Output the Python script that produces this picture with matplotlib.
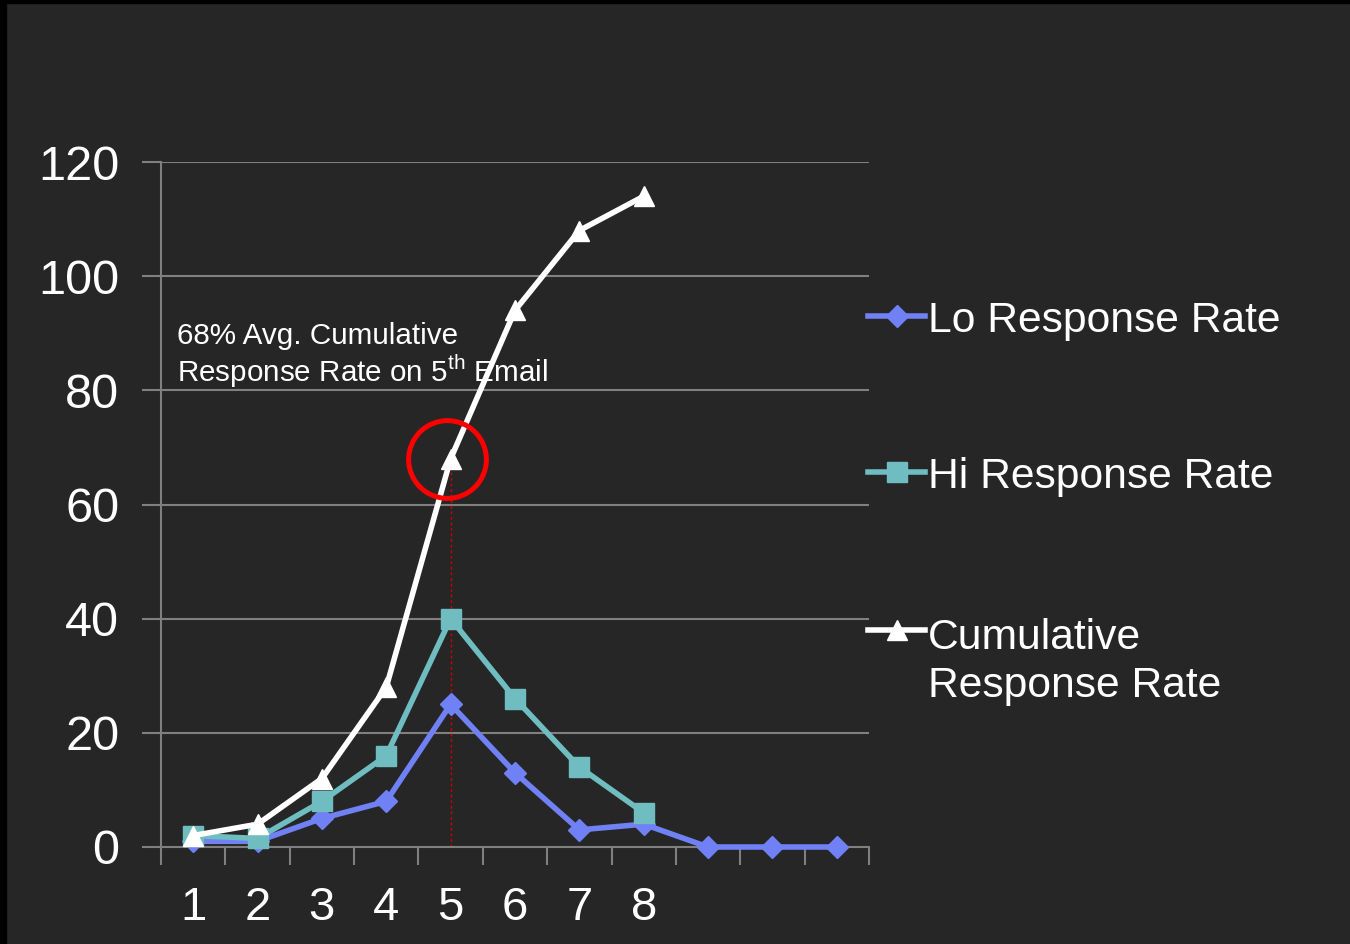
import matplotlib
matplotlib.use("Agg")
import matplotlib.pyplot as plt
from matplotlib.lines import Line2D
import numpy as np

emails = np.arange(1, 12)
tick_labels = ['1', '2', '3', '4', '5', '6', '7', '8', '', '', '']
lo_rate = [1, 1, 5, 8, 25, 13, 3, 4, 0, 0, 0]
hi_rate = [2, 1.5, 8, 16, 40, 26, 14, 6]
cumulative = [2, 4, 12, 28, 68, 94, 108, 114]

bg = '#262626'
grid_c = '#808080'
lo_c = '#7080f5'
hi_c = '#6fbdc0'
cum_c = 'white'

plt.rcParams['font.family'] = ['Liberation Sans', 'DejaVu Sans']
plt.rcParams['mathtext.fontset'] = 'custom'
plt.rcParams['mathtext.rm'] = 'Liberation Sans'

fig = plt.figure(figsize=(13.5, 9.44), dpi=100)
fig.patch.set_facecolor(bg)
ax = fig.add_axes([161 / 1350, 1 - 847 / 944, 708 / 1350, 685 / 944])
ax.set_facecolor(bg)

# gridlines
for y in range(20, 121, 20):
    ax.axhline(y, color=grid_c, lw=1.5, zorder=0)

x_hi = emails[:len(hi_rate)]
x_cum = emails[:len(cumulative)]

# marker for the 5th email
k = 4
ax.vlines(emails[k], 0, cumulative[k], colors='#d00000', linestyles=(0, (2, 2)), lw=1, zorder=1)

ax.plot(emails, lo_rate, color=lo_c, lw=4, marker='D', ms=11, zorder=3, clip_on=False)
ax.plot(x_hi, hi_rate, color=hi_c, lw=4, marker='s', ms=14, zorder=3, clip_on=False)
ax.plot(x_cum, cumulative, color=cum_c, lw=4, marker='^', ms=14, zorder=4, clip_on=False)

ax.plot(emails[k] - 0.05, cumulative[k], marker='o', ms=56, mfc='none', mec='#ff0000',
        mew=3.6, zorder=5, clip_on=False)

# baseline of the last line
ax.text(0.022, (847 - 382) / 685, '68% Avg. Cumulative\nResponse Rate on 5$^{\\mathrm{th}}$ Email',
        transform=ax.transAxes, color='white', fontsize=21.3, va='baseline', ha='left',
        linespacing=1.1)

ax.set_xlim(0.5, 11.5)
ax.set_ylim(0, 120)
ax.set_yticks(range(0, 121, 20))
ax.set_xticks(emails)
ax.set_xticklabels(tick_labels)
ax.set_xticks(np.arange(0.5, 12, 1), minor=True)
ax.tick_params(axis='x', which='major', length=0, colors='white', labelsize=34, pad=28)
ax.tick_params(axis='x', which='minor', length=13, width=1.5, color=grid_c)
ax.tick_params(axis='y', length=14, width=1.5, color=grid_c, labelcolor='white',
               labelsize=35, pad=16)
for s in ['top', 'right']:
    ax.spines[s].set_visible(False)
for s in ['left', 'bottom']:
    ax.spines[s].set_color(grid_c)
    ax.spines[s].set_linewidth(1.5)

# legend on the right, drawn by hand: (label, colour, marker, size, handle y, last baseline y)
entries = [
    ('Lo Response Rate', lo_c, 'D', 11, 316, 332),
    ('Hi Response Rate', hi_c, 's', 14, 472, 488),
    ('Cumulative\nResponse Rate', cum_c, '^', 14, 630, 697),
]
for label, c, m, ms, yh, base in entries:
    yf = 1 - yh / 944
    fig.add_artist(Line2D([868 / 1350, 897 / 1350, 925 / 1350], [yf, yf, yf], color=c, lw=4,
                          marker=m, ms=ms, markevery=[1], transform=fig.transFigure))
    fig.text(928 / 1350, 1 - base / 944, label, color='white', fontsize=30.7,
             va='baseline', ha='left', linespacing=1.25)

# thin black frame at top and left edges
fig.add_artist(plt.Rectangle((0, 1 - 3 / 944), 1, 3 / 944, color='black', transform=fig.transFigure))
fig.add_artist(plt.Rectangle((0, 0), 6 / 1350, 1, color='black', transform=fig.transFigure))

fig.savefig('out.png', dpi=100, facecolor=bg)
